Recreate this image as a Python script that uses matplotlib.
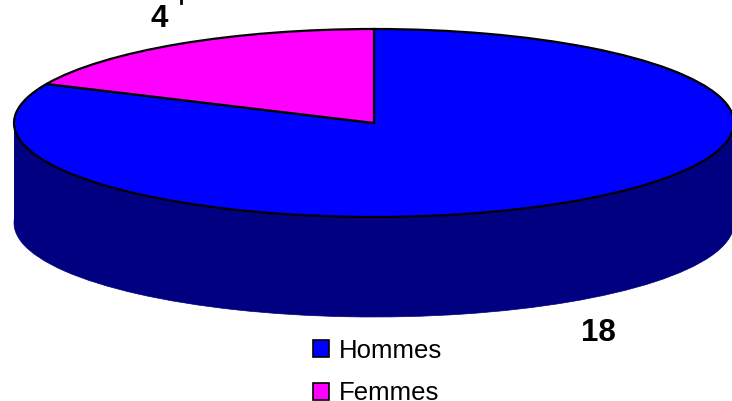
import matplotlib
matplotlib.use("Agg")
import matplotlib.pyplot as plt
from matplotlib.patches import Rectangle, Patch

categories = ["Hommes", "Femmes"]
values = [18, 4]
top_colors = ["#0000FF", "#FF00FF"]
side_color = "#000080"
value_labels = ["18", "4"]

W, H = 732, 401
CX, CY, RX, RY, DEPTH = 374, 123, 360, 94, 100

def px(x, y):
    return (x - CX) / RX, (CY - y) / RY

plt.rcParams["font.family"] = ["Liberation Sans", "DejaVu Sans"]
fig = plt.figure(figsize=(W / 100, H / 100), dpi=100)
ax = fig.add_axes([0, 0, 1, 1])

d = DEPTH / RY
edge = dict(edgecolor="black", linewidth=1.6)
# side wall: lower pie plus a band joining it to the top ellipse
ax.pie(values, colors=[side_color] * 2, startangle=90, counterclock=False,
       center=(0, -d), radius=1, wedgeprops=dict(edgecolor=side_color, linewidth=0.5))
ax.add_patch(Rectangle((-1, -d), 2, d, facecolor=side_color, edgecolor="none", zorder=1.5))
ax.pie(values, colors=top_colors, startangle=90, counterclock=False,
       center=(0, 0), radius=1, wedgeprops=dict(zorder=2, **edge))

ax.set_aspect("auto")
ax.set_xlim(px(0, 0)[0], px(W, 0)[0])
ax.set_ylim(px(0, H)[1], px(0, 0)[1])
ax.set_position([0, 0, 1, 1])
ax.axis("off")

ax.text(*px(598, 333), value_labels[0], ha="center", va="center", fontsize=22.5, fontweight="bold", zorder=5)
ax.text(*px(159, 19), value_labels[1], ha="center", va="center", fontsize=22.5, fontweight="bold", zorder=5)
ax.plot(*zip(px(181, 0), px(181, 3)), color="black", lw=2, zorder=5, clip_on=True)

handles = [Patch(facecolor=c, edgecolor="black", linewidth=1.2, label=n)
           for c, n in zip(top_colors, categories)]
ax.legend(handles=handles, loc="center left", bbox_to_anchor=((321 - 8) / W, 1 - 372 / H),
          bbox_transform=fig.transFigure, frameon=False, fontsize=18.5,
          handlelength=0.62, handleheight=0.62, handletextpad=0.38, labelspacing=0.72,
          borderpad=0.0, borderaxespad=0.0)

fig.savefig("out.png", dpi=100)
